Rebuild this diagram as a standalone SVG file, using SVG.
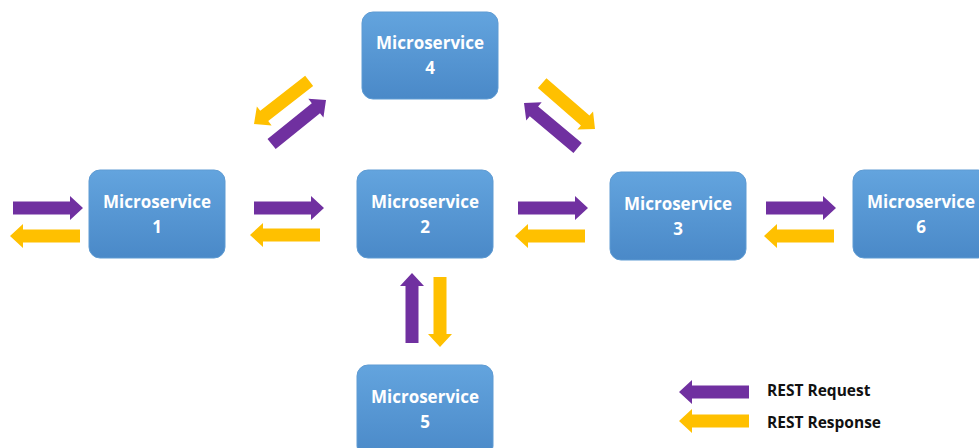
<svg xmlns="http://www.w3.org/2000/svg" xmlns:xlink="http://www.w3.org/1999/xlink" width="979" height="448" viewBox="0 0 979 448">
  <defs>
    <linearGradient id="boxFill" x1="0" y1="0" x2="0" y2="1">
      <stop offset="0" stop-color="#63a4de"/>
      <stop offset="1" stop-color="#4a89c8"/>
    </linearGradient>
    <!-- block arrow, tip at the origin, pointing along +x -->
    <path id="arrow" d="M-70,-6.5 L-13,-6.5 L-13,-12 L0,0 L-13,12 L-13,6.5 L-70,6.5 Z"/>
  </defs>
  <style>
    .box { fill: url(#boxFill); stroke: #5e9bd3; stroke-width: 1; }
    .label { font-family: "Open Sans", "Liberation Sans", sans-serif; font-weight: bold; font-size: 17px; fill: #ffffff; text-anchor: middle; }
    .req { fill: #7030a0; }
    .resp { fill: #ffc000; }
    .legend { font-family: "Open Sans", "Liberation Sans", sans-serif; font-weight: bold; font-size: 15.5px; fill: #111111; }
  </style>
  <rect width="979" height="448" fill="#ffffff"/>

  <g id="ms1">
    <rect class="box" x="89" y="170" width="136" height="88" rx="11"/>
    <text class="label" x="157" y="208">Microservice</text>
    <text class="label" x="157" y="233">1</text>
  </g>
  <g id="ms2">
    <rect class="box" x="357" y="170" width="136" height="88" rx="11"/>
    <text class="label" x="425" y="208">Microservice</text>
    <text class="label" x="425" y="233">2</text>
  </g>
  <g id="ms3">
    <rect class="box" x="610" y="172" width="136" height="88" rx="11"/>
    <text class="label" x="678" y="210">Microservice</text>
    <text class="label" x="678" y="235">3</text>
  </g>
  <g id="ms4">
    <rect class="box" x="362" y="12" width="136" height="87" rx="11"/>
    <text class="label" x="430" y="49">Microservice</text>
    <text class="label" x="430" y="74">4</text>
  </g>
  <g id="ms5">
    <rect class="box" x="357" y="365" width="136" height="92" rx="11"/>
    <text class="label" x="425" y="403">Microservice</text>
    <text class="label" x="425" y="428">5</text>
  </g>
  <g id="ms6">
    <rect class="box" x="853" y="170" width="136" height="88" rx="11"/>
    <text class="label" x="921" y="208">Microservice</text>
    <text class="label" x="921" y="233">6</text>
  </g>

  <g id="connectors">
    <!-- into / out of microservice 1 -->
    <use xlink:href="#arrow" class="req" transform="translate(83,208)"/>
    <use xlink:href="#arrow" class="resp" transform="translate(10,236) rotate(180)"/>
    <!-- 1 <-> 2 -->
    <use xlink:href="#arrow" class="req" transform="translate(324,208)"/>
    <use xlink:href="#arrow" class="resp" transform="translate(250,235) rotate(180)"/>
    <!-- 2 <-> 3 -->
    <use xlink:href="#arrow" class="req" transform="translate(588,208)"/>
    <use xlink:href="#arrow" class="resp" transform="translate(515,236) rotate(180)"/>
    <!-- 3 <-> 6 -->
    <use xlink:href="#arrow" class="req" transform="translate(836,208)"/>
    <use xlink:href="#arrow" class="resp" transform="translate(764,236) rotate(180)"/>
    <!-- 2 <-> 5 -->
    <use xlink:href="#arrow" class="req" transform="translate(412,273) rotate(-90)"/>
    <use xlink:href="#arrow" class="resp" transform="translate(440,347) rotate(90)"/>
    <!-- 1 <-> 4 -->
    <use xlink:href="#arrow" class="resp" transform="translate(254,124) rotate(142)"/>
    <use xlink:href="#arrow" class="req" transform="translate(326,100) rotate(-39)"/>
    <!-- 4 <-> 3 -->
    <use xlink:href="#arrow" class="resp" transform="translate(595,129) rotate(41)"/>
    <use xlink:href="#arrow" class="req" transform="translate(524,103) rotate(-140)"/>
  </g>

  <g id="legend">
    <use xlink:href="#arrow" class="req" transform="translate(679,392) rotate(180)"/>
    <use xlink:href="#arrow" class="resp" transform="translate(679,421) rotate(180)"/>
    <text class="legend" x="767" y="396">REST Request</text>
    <text class="legend" x="767" y="428">REST Response</text>
  </g>
</svg>
